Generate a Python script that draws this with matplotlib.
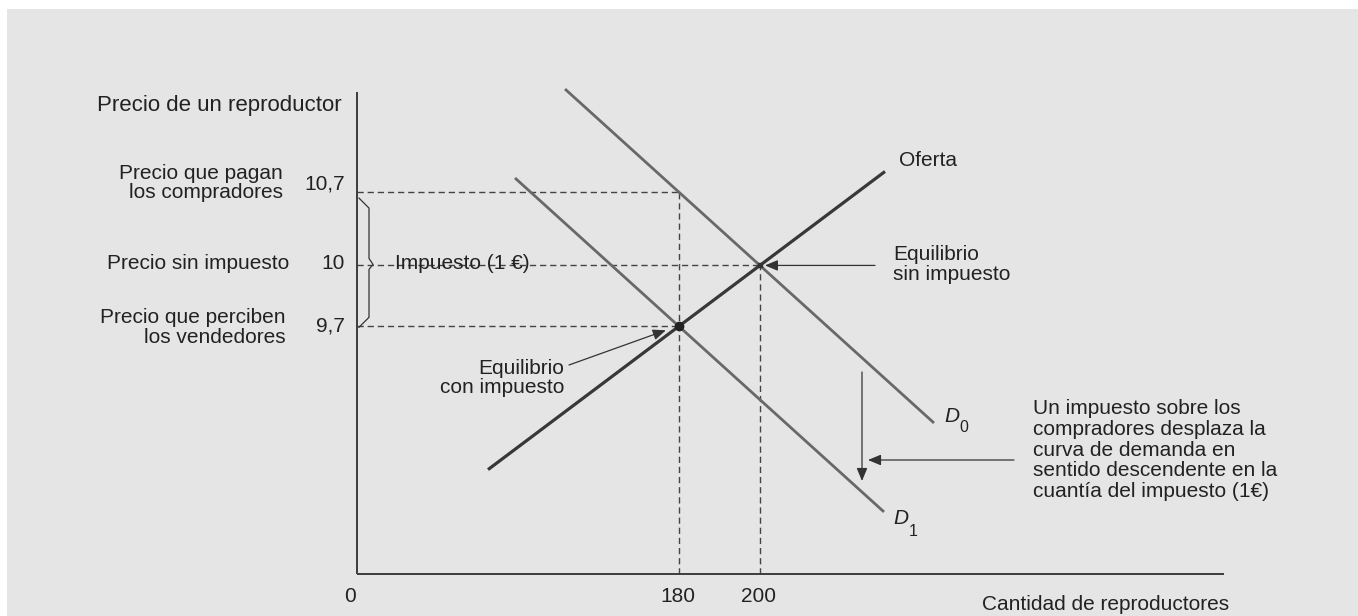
import numpy as np
import matplotlib
matplotlib.use("Agg")
import matplotlib.pyplot as plt
from matplotlib.patches import Rectangle

plt.rcParams['font.family'] = ['Liberation Sans', 'DejaVu Sans']

# ---------------- data (schematic diagram) ----------------
quantity_labels = ["0", "180", "200"]
price_labels = ["10,7", "10", "9,7"]
price_descriptions = ["Precio que pagan\nlos compradores",
                      "Precio sin impuesto",
                      "Precio que perciben\nlos vendedores"]
# schematic straight curves in diagram units: y = intercept + slope * x
curve_names = ["Oferta", "D0", "D1"]
curve_intercepts = [6.0, 673.2, 539.0]
curve_slopes = [0.751, -0.905, -0.905]
curve_x_start = [131, 208, 158]
curve_x_end = [528, 577, 527]
tax_label = "Impuesto (1 €)"

# ---------------- derived equilibria ----------------
def curve(i, x):
    return curve_intercepts[i] + curve_slopes[i] * np.asarray(x, dtype=float)

def intersect(i, j):
    x = (curve_intercepts[j] - curve_intercepts[i]) / (curve_slopes[i] - curve_slopes[j])
    return x, float(curve(i, x))

q0, p0 = intersect(0, 1)        # without tax
q1, p_sell = intersect(0, 2)    # with tax
p_buy = float(curve(1, q1))     # price buyers pay

# ---------------- figure ----------------
W, H = 1358, 616
ORX, ORY = 357, 574            # axis origin in pixels
fig = plt.figure(figsize=(W / 100, H / 100), dpi=100)
fig.patch.set_facecolor('white')
ax = fig.add_axes([0, 0, 1, 1])
ax.set_xlim(-ORX, W - ORX)
ax.set_ylim(ORY - H, ORY)
ax.axis('off')

def X(px):
    return px - ORX

def Y(py):
    return ORY - py

ax.add_patch(Rectangle((X(7), Y(616)), W - 7, 616 - 9, facecolor='#e5e5e5',
                       edgecolor='none', zorder=0))

TXT = '#222222'
FS = 15

# axes
ax.plot([0, 0], [0, Y(92)], color='#3c3c3c', lw=1.4, zorder=3, solid_capstyle='butt')
ax.plot([0, X(1224)], [0, 0], color='#3c3c3c', lw=1.4, zorder=3, solid_capstyle='butt')

# dashed guides
dash = dict(color='#444444', lw=1.0, ls=(0, (4.5, 2.8)), zorder=1)
ax.plot([0, q1], [p_buy, p_buy], **dash)
ax.plot([0, q0], [p0, p0], **dash)
ax.plot([0, q1], [p_sell, p_sell], **dash)
ax.plot([q1, q1], [0, p_buy], **dash)
ax.plot([q0, q0], [0, p0], **dash)

# curves
curve_colors = ['#383838', '#686868', '#686868']
curve_lw = [2.3, 2.0, 2.0]
for i in range(3):
    xs = np.array([curve_x_start[i], curve_x_end[i]], dtype=float)
    ax.plot(xs, curve(i, xs), color=curve_colors[i], lw=curve_lw[i],
            solid_capstyle='butt', zorder=2)

# equilibrium markers
ax.plot([q1], [p_sell], 'o', ms=6, color='#222222', zorder=4)
ax.plot([q0], [p0], 's', ms=3.5, color='#333333', zorder=4)

# brace for the tax
bx = [2, 12, 12, 16, 12, 12, 2]
by = [p_buy - 6, p_buy - 16, p0 + 7, p0 + 1, p0 - 4, p_sell + 9, p_sell - 1]
ax.plot(bx, by, color='#333333', lw=0.9, zorder=3)
ax.text(X(395), p0 + 2, tax_label, fontsize=FS, color=TXT, ha='left', va='center', zorder=5)

# y-axis title and labels
ax.text(X(97), Y(111), "Precio de un reproductor", fontsize=16, color=TXT,
        ha='left', va='baseline')
desc_x = [X(283), X(289), X(286)]
desc_dy = [9, 2, -1]
tick_dy = [8, 2, 0]
desc_ls = [1.0, 1.0, 1.05]
for lab, desc, p, dx, ddy, tdy, ls in zip(price_labels, price_descriptions,
                                           [p_buy, p0, p_sell], desc_x, desc_dy,
                                           tick_dy, desc_ls):
    ax.text(X(345), p + tdy, lab, fontsize=FS, color=TXT, ha='right', va='center')
    ax.text(dx, p + ddy, desc, fontsize=FS, color=TXT, ha='right', va='center',
            linespacing=ls)

# x-axis labels
for lab, q in zip(quantity_labels, [0.0, q1, q0]):
    ax.text(q - 7 if q == 0 else q - 1, Y(596), lab, fontsize=FS, color=TXT,
            ha='center', va='center')
ax.text(X(1229), Y(605), "Cantidad de reproductores", fontsize=FS, color=TXT,
        ha='right', va='center')

# curve labels
ax.text(X(899), Y(160), curve_names[0], fontsize=FS, color=TXT, ha='left', va='center')
ax.text(X(952), Y(416), "D", fontsize=FS, style='italic', color=TXT, ha='center', va='center')
ax.text(X(964), Y(428), "0", fontsize=11.5, color=TXT, ha='center', va='center')
ax.text(X(901), Y(519), "D", fontsize=FS, style='italic', color=TXT, ha='center', va='center')
ax.text(X(913), Y(531), "1", fontsize=11.5, color=TXT, ha='center', va='center')

# annotations
arrow = dict(arrowstyle='-|>,head_length=0.6,head_width=0.25', color='#333333',
             lw=0.9, mutation_scale=13, shrinkA=0, shrinkB=0)
ax.text(X(893), p0 + 1, "Equilibrio\nsin impuesto", fontsize=FS, color=TXT,
        ha='left', va='center', linespacing=1.08)
ax.annotate('', xy=(q0 + 5, p0), xytext=(X(875), p0), arrowprops=arrow, zorder=5)

ax.text(X(564), Y(378), "Equilibrio\ncon impuesto", fontsize=FS, color=TXT,
        ha='right', va='center', linespacing=1.0)
ax.annotate('', xy=(q1 - 13, p_sell - 4), xytext=(X(569), Y(365)), arrowprops=arrow, zorder=5)

ax.annotate('', xy=(X(862), Y(481)), xytext=(X(862), Y(372)), arrowprops=arrow)
ax.annotate('', xy=(X(868), Y(460)), xytext=(X(1014), Y(460)), arrowprops=arrow)
ax.text(X(1033), Y(450),
        "Un impuesto sobre los\ncompradores desplaza la\ncurva de demanda en\n"
        "sentido descendente en la\ncuantía del impuesto (1€)",
        fontsize=FS, color=TXT, ha='left', va='center', linespacing=1.12)

fig.savefig("out.png", dpi=100, facecolor=fig.get_facecolor())
